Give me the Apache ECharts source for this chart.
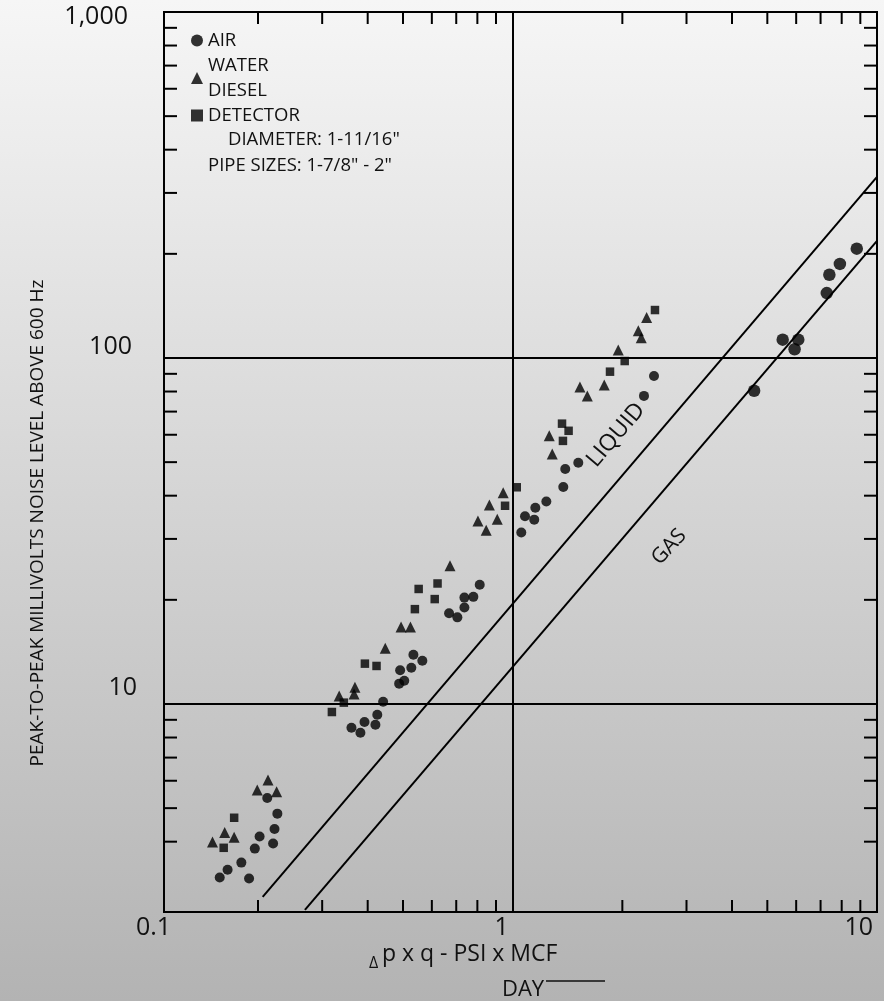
<!DOCTYPE html>
<html>
<head>
<meta charset="utf-8">
<title>Peak-to-peak noise level</title>
<script src="https://cdn.jsdelivr.net/npm/echarts@6/dist/echarts.min.js"></script>
<style>
  html, body { margin: 0; padding: 0; }
  #chart { width: 884px; height: 1001px; }
</style>
</head>
<body>
<div id="chart"></div>
<script>
// [Δp x q, mV]
const airData = [
  [0.157, 3.15], [0.165, 3.32], [0.180, 3.48], [0.189, 3.13], [0.196, 3.82],
  [0.202, 4.14], [0.220, 3.95], [0.222, 4.35], [0.226, 4.82], [0.212, 5.35],
  [0.361, 8.54], [0.382, 8.26], [0.392, 8.87], [0.420, 8.71], [0.425, 9.31],
  [0.441, 10.15], [0.488, 11.45], [0.504, 11.67], [0.491, 12.52], [0.527, 12.73],
  [0.534, 13.88], [0.565, 13.34], [0.669, 18.3], [0.705, 17.8], [0.737, 19.0],
  [0.737, 20.3], [0.780, 20.4], [0.812, 22.1], [1.056, 31.3], [1.081, 34.9],
  [1.146, 34.1], [1.154, 36.9], [1.237, 38.5], [1.377, 42.4], [1.394, 47.8],
  [1.514, 49.8], [2.293, 77.7], [2.443, 88.7], [4.60, 80.4], [5.51, 113],
  [6.08, 113], [5.94, 106], [7.28, 154], [7.40, 174], [7.91, 187], [8.80, 207]
]
const dieselData = [
  [0.150, 3.99], [0.162, 4.25], [0.172, 4.12], [0.199, 5.64], [0.213, 6.03],
  [0.225, 5.58], [0.334, 10.55], [0.369, 11.17], [0.367, 10.69], [0.447, 14.5],
  [0.494, 16.7], [0.524, 16.7], [0.673, 25.1], [0.803, 33.8], [0.846, 31.8],
  [0.907, 34.2], [0.863, 37.6], [0.942, 40.8], [1.260, 59.6], [1.284, 52.8],
  [1.530, 82.5], [1.603, 77.7], [1.784, 83.6], [1.949, 105.5], [2.212, 119.9],
  [2.254, 114.5], [2.332, 131]
]
const detectorData = [
  [0.172, 4.69], [0.161, 3.84], [0.319, 9.48], [0.344, 10.09], [0.393, 13.08],
  [0.423, 12.88], [0.539, 18.8], [0.552, 21.5], [0.611, 20.1], [0.622, 22.3],
  [0.953, 37.4], [1.026, 42.3], [1.366, 64.6], [1.424, 61.6], [1.374, 57.6],
  [1.850, 91.3], [2.030, 98.0], [2.458, 137.6]
]
const liquidLine = [[0.206, 2.77], [10, 334]]
const gasLine = [[0.269, 2.54], [10, 218]]

// axis extents and minor ticks
const xRange = [0.1104, 10]
const yRange = [2.505, 1000]
const xMinorTicks = [0.2, 0.3, 0.4, 0.5, 0.6, 0.7, 0.8, 0.9, 2, 3, 4, 5, 6, 7, 8, 9]
const yMinorTicks = [4, 5, 6, 7, 8, 9, 20, 30, 40, 50, 60, 70, 80, 90,
  200, 300, 400, 500, 600, 700, 800, 900]

const FONT = 'Open Sans'
const chart = echarts.init(document.getElementById('chart'))

// short inward ticks on both sides of the box
function minorTick(dir) {
  return function (params, api) {
    const cs = params.coordSys
    const style = { stroke: '#000', lineWidth: 2 }
    if (dir === 'x') {
      const px = api.coord([api.value(0), 10])[0]
      const b = cs.y + cs.height
      return {
        type: 'group',
        children: [
          { type: 'line', shape: { x1: px, y1: b, x2: px, y2: b - 12 }, style },
          { type: 'line', shape: { x1: px, y1: cs.y, x2: px, y2: cs.y + 12 }, style }
        ]
      }
    }
    const py = api.coord([1, api.value(1)])[1]
    const r = cs.x + cs.width
    return {
      type: 'group',
      children: [
        { type: 'line', shape: { x1: cs.x, y1: py, x2: cs.x + 13, y2: py }, style },
        { type: 'line', shape: { x1: r, y1: py, x2: r - 13, y2: py }, style }
      ]
    }
  }
}

function decade(v) {
  return Math.round(Math.log10(v))
}

chart.setOption({
  backgroundColor: {
    type: 'linear', x: 0, y: 0, x2: 0, y2: 1,
    colorStops: [{ offset: 0, color: '#f6f6f6' }, { offset: 1, color: '#b3b3b3' }]
  },
  textStyle: { fontFamily: FONT },
  animation: false,
  grid: {
    left: 164, right: 7, top: 12, bottom: 89,
    show: true, borderColor: '#000', borderWidth: 2
  },
  legend: {
    orient: 'vertical',
    left: 186,
    top: 23,
    itemGap: 0,
    itemWidth: 12,
    itemHeight: 12,
    textStyle: { fontFamily: FONT, fontSize: 18.5, lineHeight: 25, color: '#111' },
    data: [
      { name: 'AIR', icon: 'circle' },
      { name: 'WATER\nDIESEL', icon: 'triangle' },
      { name: 'DETECTOR', icon: 'rect' }
    ]
  },
  xAxis: {
    type: 'log',
    min: xRange[0],
    max: xRange[1],
    axisLine: { show: false },
    axisTick: { show: false },
    splitLine: { show: true, lineStyle: { color: '#000', width: 2 } },
    axisLabel: {
      fontFamily: FONT,
      fontSize: 25,
      color: '#111',
      align: 'right',
      verticalAlign: 'middle',
      padding: [0, 4, 0, 0],
      margin: 16,
      formatter: function (v) {
        const d = decade(v)
        if (d <= -1) return '{m|0.1}'
        if (d === 0) return '1'
        return '10'
      },
      rich: {
        m: { fontFamily: FONT, fontSize: 25, color: '#111', width: 24, align: 'left' }
      }
    }
  },
  yAxis: {
    type: 'log',
    min: yRange[0],
    max: yRange[1],
    axisLine: { show: false },
    axisTick: { show: false },
    splitLine: { show: true, lineStyle: { color: '#000', width: 2 } },
    axisLabel: {
      fontFamily: FONT,
      fontSize: 25,
      color: '#111',
      margin: 27,
      verticalAlign: 'middle',
      formatter: function (v) {
        const d = decade(v)
        if (Math.abs(Math.log10(v) - d) > 0.01) return ''
        if (d === 3) return '{a|1,000}'
        if (d === 2) return '{b|100}'
        if (d === 1) return '{c|10}'
        return ''
      },
      rich: {
        a: { fontFamily: FONT, fontSize: 25, color: '#111', padding: [10, 9, 0, 0] },
        b: { fontFamily: FONT, fontSize: 25, color: '#111', padding: [0, 5, 22, 0] },
        c: { fontFamily: FONT, fontSize: 25, color: '#111', padding: [0, 0, 32, 0] }
      }
    }
  },
  graphic: [
    {
      type: 'text', x: 38, y: 523, rotation: Math.PI / 2,
      style: {
        text: 'PEAK-TO-PEAK MILLIVOLTS NOISE LEVEL ABOVE 600 Hz',
        font: '19px "Open Sans"', fill: '#111', align: 'center', verticalAlign: 'middle'
      }
    },
    {
      type: 'text', x: 369, y: 963,
      style: { text: 'Δ', font: '16px "Open Sans"', fill: '#111', verticalAlign: 'middle' }
    },
    {
      type: 'text', x: 382, y: 954,
      style: { text: 'p x q - PSI x MCF', font: '23px "Open Sans"', fill: '#111', verticalAlign: 'middle' }
    },
    {
      type: 'text', x: 502, y: 990,
      style: { text: 'DAY', font: '22px "Open Sans"', fill: '#111', verticalAlign: 'middle' }
    },
    {
      type: 'line', shape: { x1: 546, y1: 981, x2: 605, y2: 981 },
      style: { stroke: '#111', lineWidth: 1.5 }
    },
    {
      type: 'text', x: 228, y: 140,
      style: { text: 'DIAMETER: 1-11/16"', font: '18.5px "Open Sans"', fill: '#111', verticalAlign: 'middle' }
    },
    {
      type: 'text', x: 208, y: 166,
      style: { text: 'PIPE SIZES: 1-7/8" - 2"', font: '18.5px "Open Sans"', fill: '#111', verticalAlign: 'middle' }
    },
    {
      type: 'text', x: 616, y: 435, rotation: 0.864,
      style: { text: 'LIQUID', font: '23px "Open Sans"', fill: '#111', align: 'center', verticalAlign: 'middle' }
    },
    {
      type: 'text', x: 669, y: 547, rotation: 0.82,
      style: { text: 'GAS', font: '21px "Open Sans"', fill: '#111', align: 'center', verticalAlign: 'middle' }
    }
  ],
  series: [
    {
      type: 'custom', silent: true, renderItem: minorTick('x'),
      data: xMinorTicks.map(v => [v, 10]), z: 5
    },
    {
      type: 'custom', silent: true, renderItem: minorTick('y'),
      data: yMinorTicks.map(v => [1, v]), z: 5
    },
    {
      name: 'LIQUID', type: 'line', data: liquidLine, showSymbol: false, silent: true,
      lineStyle: { color: '#000', width: 2 }
    },
    {
      name: 'GAS', type: 'line', data: gasLine, showSymbol: false, silent: true,
      lineStyle: { color: '#000', width: 2 }
    },
    {
      name: 'AIR', type: 'scatter', symbol: 'circle', data: airData,
      symbolSize: function (d) { return d[0] > 4 ? 12.5 : 10 },
      itemStyle: { color: '#000' }
    },
    {
      name: 'WATER\nDIESEL', type: 'scatter', symbol: 'triangle', data: dieselData,
      symbolSize: 11, itemStyle: { color: '#000' }
    },
    {
      name: 'DETECTOR', type: 'scatter', symbol: 'rect', data: detectorData,
      symbolSize: 8.5, itemStyle: { color: '#000' }
    }
  ]
})
</script>
</body>
</html>
